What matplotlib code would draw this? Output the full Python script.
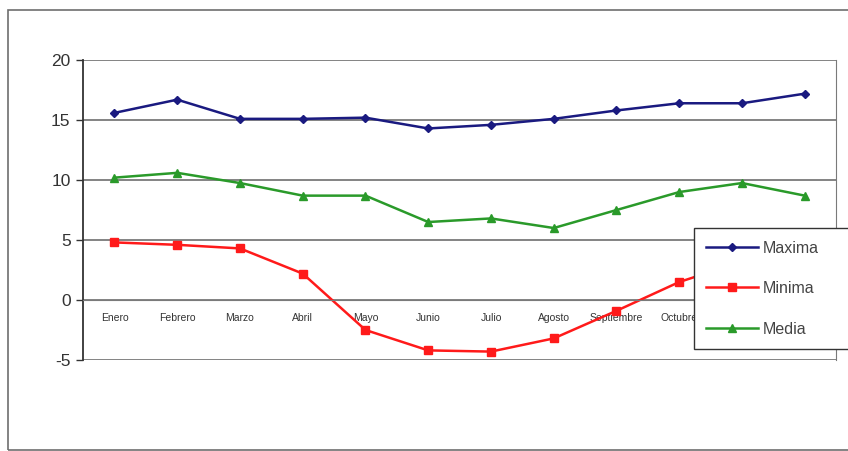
import numpy as np
import matplotlib.pyplot as plt
from matplotlib.patches import Rectangle


plt.rcParams['font.family'] = ['Liberation Sans', 'DejaVu Sans']
plt.rcParams['axes.unicode_minus'] = False

meses = ['Enero', 'Febrero', 'Marzo', 'Abril', 'Mayo', 'Junio', 'Julio',
         'Agosto', 'Septiembre', 'Octubre', 'Noviembre', 'Diciembre']
maxima = [15.6, 16.7, 15.1, 15.1, 15.2, 14.3, 14.6, 15.1, 15.8, 16.4, 16.4, 17.2]
minima = [4.8, 4.6, 4.3, 2.2, -2.5, -4.2, -4.3, -3.2, -0.9, 1.5, 3.2, 3.9]
media = [10.2, 10.6, 9.75, 8.7, 8.7, 6.5, 6.8, 6.0, 7.5, 9.0, 9.75, 8.7]
y_ticks = [-5, 0, 5, 10, 15, 20]


def plot_temperaturas():
    fig = plt.figure(figsize=(8.48, 4.51), dpi=100)
    fig.patch.set_facecolor('white')

    # marco exterior del grafico
    fig.patches.append(Rectangle((0.0095, 0.002), 1.2, 0.975, transform=fig.transFigure,
                                 fill=False, edgecolor='#6e6e6e', linewidth=1.2))

    ax = fig.add_axes([0.098, 0.2018, 0.888, 0.665])
    x = np.arange(len(meses))

    ax.plot(x, maxima, color='#1a1a80', marker='D', markersize=4.5, linewidth=1.8, label='Maxima')
    ax.plot(x, minima, color='#ff1a1a', marker='s', markersize=6, linewidth=1.8, label='Minima')
    ax.plot(x, media, color='#2a9a2a', marker='^', markersize=6, linewidth=1.8, label='Media')

    ax.set_xlim(-0.5, len(meses) - 0.5)
    ax.set_ylim(-5, 20)
    ax.set_yticks(y_ticks)
    ax.set_yticklabels([str(v) for v in y_ticks], fontsize=12.5, color='#333333')

    for v in y_ticks:
        ax.axhline(v, color='#7a7a7a', linewidth=1.3, zorder=0)

    # eje de categorias en el cero
    ax.spines['bottom'].set_position(('data', 0))
    ax.spines['bottom'].set_color('#7a7a7a')
    ax.spines['top'].set_visible(False)
    ax.spines['right'].set_color('#7a7a7a')
    ax.spines['left'].set_color('#333333')
    ax.spines['left'].set_linewidth(1.3)
    ax.set_xticks(x)
    ax.set_xticklabels(meses, fontsize=7.5, color='#333333', fontstretch='condensed')
    ax.tick_params(axis='x', length=0, pad=9)
    ax.tick_params(axis='y', length=5, width=1, color='#333333', pad=4)

    leg = ax.legend(loc='upper left', bbox_to_anchor=(0.818, 0.225, 0.19, 0.27),
                    bbox_transform=fig.transFigure, mode='expand', borderaxespad=0,
                    fontsize=11.5, frameon=True, fancybox=False, framealpha=1,
                    handlelength=3.2, labelspacing=1.6, borderpad=0.8,
                    handletextpad=0.3, labelcolor='#444444')
    leg.get_frame().set_edgecolor('#333333')
    leg.get_frame().set_linewidth(1.0)
    leg.set_zorder(10)

    plt.savefig('out.png', dpi=100)


if __name__ == "__main__":
    plot_temperaturas()
